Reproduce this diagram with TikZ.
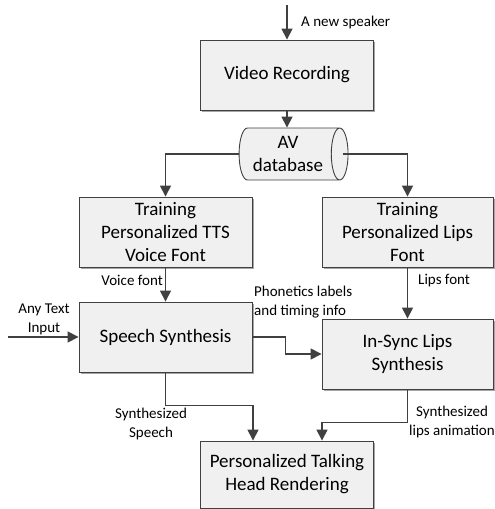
\documentclass[tikz,border=0pt]{standalone}
\usepackage{fontspec}
\setmainfont{Carlito}
\usetikzlibrary{arrows.meta,shapes.geometric,shadows}
\definecolor{boxfill}{HTML}{F0F0F0}
\definecolor{linegray}{HTML}{404040}
\tikzset{
  block/.style = {rectangle, draw=linegray, line width=0.9pt, fill=boxfill,
    minimum width=173pt, minimum height=70pt, align=center, inner sep=2pt,
    font=\fontsize{19}{23}\selectfont,
    drop shadow={shadow xshift=1.5pt, shadow yshift=-1.5pt, fill=black!35, opacity=1}},% grey box
  db/.style = {cylinder, draw=linegray, line width=0.9pt, fill=boxfill,
    minimum height=109pt, minimum width=52pt, aspect=0.45, align=center,
    inner sep=1pt, font=\fontsize{19}{23}\selectfont},% AV store
  lbl/.style = {align=center, inner sep=0pt, font=\fontsize{15}{19}\selectfont},
  conn/.style = {->, draw=linegray, line width=1.5pt}
}

\begin{document}
\begin{tikzpicture}[x=1pt,y=-1pt,>={Triangle[width=11pt,length=11pt]}]
\useasboundingbox (0,0) rectangle (495,509);
% boxes
\node [block] (vrec) at (287,75) {Video Recording};
\node [db] (avdb) at (288,154) {AV\\database};
\node [block] (ttsfont) at (165.5,232) {Training\\Personalized TTS\\Voice Font};
\node [block, minimum width=171pt] (lipsfont) at (407.5,232) {Training\\Personalized Lips\\Font};
\node [block] (speech) at (165.5,337) {Speech Synthesis};
\node [block, minimum width=171pt] (insync) at (407.5,354) {In-Sync Lips\\Synthesis};
\node [block, minimum height=67pt] (head) at (287,474.5) {Personalized Talking\\Head Rendering};
% free ends
\coordinate (spkin) at (287,5);
\coordinate (txtin) at (8,337);
% connectors
\draw [conn] (spkin) -- (vrec.north);
\draw [conn] (vrec.south) -- (vrec.south |- avdb.north);
\draw [conn] (avdb.west) -| (ttsfont.north);
\draw [conn] ([xshift=-6pt]avdb.east) -| (lipsfont.north);
\draw [conn] (ttsfont.south) -- (speech.north);
\draw [conn] (lipsfont.south) -- (insync.north);
\draw [conn] (txtin) -- (speech.west);
\draw [conn] (speech.east) -- ++(33,0) |- (insync.west);
\draw [conn] (speech.south) -- ++(0,33) -| ([xshift=-34pt]head.north);
\draw [conn] (insync.south) -- ++(0,33) -| ([xshift=35pt]head.north);
% labels
\node [lbl, anchor=west] (newspk) at (301,22) {A new speaker};
\node [lbl, anchor=east] (voicelbl) at (163,280) {Voice font};
\node [lbl, anchor=west] (lipslbl) at (418,281) {Lips font};
\node [lbl] (anylbl) at (44,319) {Any Text\\Input};
\node [lbl, align=left, anchor=west] (phonlbl) at (254,302) {Phonetics labels\\and timing info};
\node [lbl] (speechlbl) at (151,424) {Synthesized\\Speech};
\node [lbl] (animlbl) at (452,422) {Synthesized\\lips animation};
\end{tikzpicture}
\end{document}
